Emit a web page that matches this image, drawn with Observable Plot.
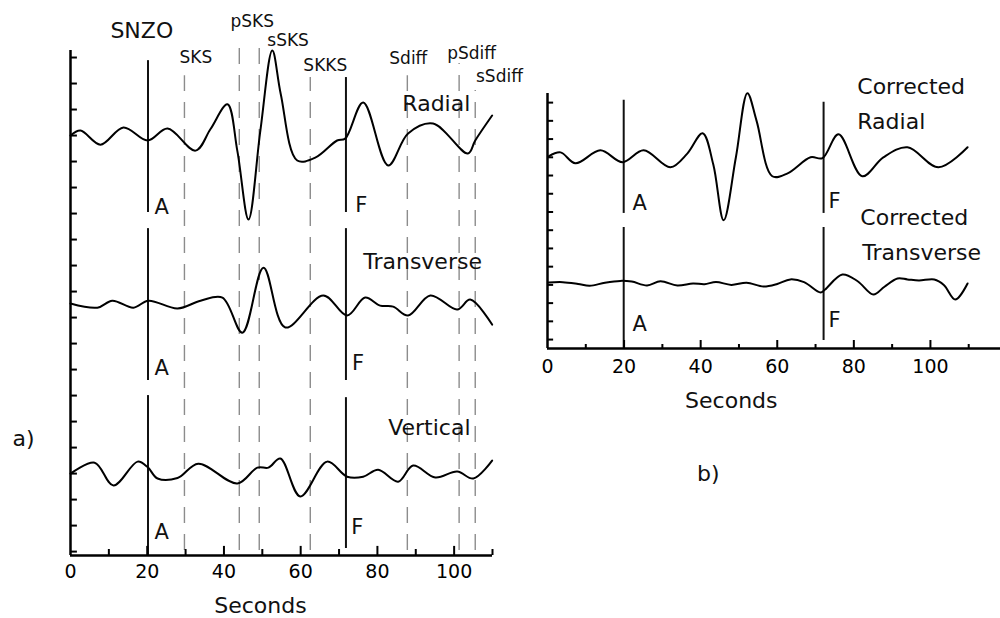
<!DOCTYPE html>
<html><head><meta charset="utf-8">
<script src="https://cdn.jsdelivr.net/npm/d3@7"></script>
<script src="https://cdn.jsdelivr.net/npm/@observablehq/plot@0.6"></script>
<style>
body{margin:0;background:#fff;}
#wrap{position:relative;width:1000px;height:618px;overflow:hidden;background:#fff;}
#wrap svg{position:absolute;top:0;}
</style></head><body><div id="wrap"></div>
<script>
// ---------- data (time in seconds, amplitude in trace units) ----------
const radial = [[0,16.0],[2.6,16.19],[7.8,15.65],[13.8,16.31],[20.1,15.81],[25.3,16.27],[32.6,15.42],[36.5,16.25],[40.9,17.2],[43.5,15.4],[46.4,12.77],[49.5,16.2],[52.6,19.27],[54.8,17.6],[59.1,15.04],[63.8,15.15],[69.5,15.81],[71.6,15.88],[76.3,17.27],[82.8,14.85],[88.0,16.08],[94.5,16.46],[103.6,15.31],[105.5,15.81],[109.9,16.77]];
const transverse = [[0,9.54],[7.0,9.38],[10.9,9.65],[16.4,9.38],[20.3,9.65],[27.9,9.35],[33.9,9.65],[39.6,9.77],[44.8,8.42],[50.3,10.92],[56.0,8.62],[65.9,9.85],[72.1,9.08],[76.8,9.77],[80.7,9.46],[84.1,9.42],[88.0,9.08],[93.8,9.85],[100.8,9.31],[104.2,9.69],[109.9,8.73]];
const vertical = [[0,3.0],[6.3,3.42],[11.2,2.54],[17.5,3.46],[20.1,3.25],[22.7,2.81],[27.9,2.83],[33.3,3.38],[43.5,2.62],[48.7,3.23],[51.6,3.23],[54.7,3.58],[59.9,2.12],[66.9,3.46],[72.1,2.88],[76.3,2.88],[80.2,3.15],[85.4,2.69],[89.3,3.31],[95.1,2.85],[100.8,3.08],[105.0,2.81],[109.9,3.5]];
const corrRadial = [[0.3,10.05],[3.4,10.27],[7.3,9.67],[13.8,10.38],[19.6,9.73],[25.1,10.38],[32.1,9.45],[36.5,10.2],[40.5,11.32],[43.3,9.6],[46.0,6.54],[49.2,10.0],[52.2,13.52],[54.6,12.0],[58.7,8.96],[62.7,9.12],[68.7,10.0],[71.8,9.95],[76.0,11.26],[82.2,8.96],[87.7,10.0],[94.0,10.55],[102.1,9.45],[109.7,10.55]];
const corrTransverse = [[0.3,3.13],[4,3.15],[8,3.05],[11,2.95],[15,3.12],[19,3.22],[22,3.18],[26,2.97],[29.5,3.2],[33.9,2.97],[38,3.08],[41,3.04],[44,3.16],[48,3.0],[52,3.12],[56.4,2.91],[60,3.05],[63.4,3.3],[67,3.15],[71.3,2.58],[72.5,2.75],[77,3.57],[81,3.2],[85.1,2.47],[88,2.9],[91.4,3.35],[94,3.3],[97,3.24],[101,3.3],[103.5,3.0],[106.5,2.2],[109.7,3.08]];
const phaseNames = ["SKS","pSKS","sSKS","SKKS","Sdiff","pSdiff","sSdiff"];
const phaseTimes = [29.7,44.0,49.2,62.5,87.8,101.3,105.5];
const markerNames = ["A","F"];
const markerTimesA = [20.2,71.8];
const markerTimesB = [19.9,72.1];
const xTickLabels = [0,20,40,60,80,100];

// ---------- layout ----------
const FONT = "'DejaVu Sans', Verdana, sans-serif";
const phaseTop = [18.3,19.65,19.46,18.23,18.3,18.77,17.73];
const wrap = document.getElementById("wrap");
const note = (t, x, y, size, anchor="start") =>
  Plot.text([t], {x, y, text: d => d, fontSize: size, textAnchor: anchor, fill: "#111"});
const trace = (data) => Plot.line(data, {x: d => d[0], y: d => d[1], curve: "catmull-rom", stroke: "#000", strokeWidth: 2});
const seg = (x, y1, y2) => Plot.ruleX([x], {y1, y2, stroke: "#111", strokeWidth: 2});

// ---------- panel a ----------
const pa = Plot.plot({
  width: 520, height: 618,
  marginLeft: 70, marginRight: 28, marginTop: 50, marginBottom: 63,
  x: {domain: [0, 110]},
  y: {domain: [-0.15, 19.27], axis: null},
  style: {fontFamily: FONT, background: "none", overflow: "visible"},
  marks: [
    Plot.ruleX(phaseTimes, {x: d => d, y1: 0.04, y2: (d, i) => phaseTop[i], stroke: "#8c8c8c", strokeWidth: 1.4, strokeDasharray: "16,11"}),
    // A/F markers per trace
    seg(markerTimesA[0], 18.88, 13.04), seg(markerTimesA[1], 18.23, 13.04),
    seg(markerTimesA[0], 12.42, 6.58), seg(markerTimesA[1], 12.42, 6.58),
    seg(markerTimesA[0], 6.0, -0.15), seg(markerTimesA[1], 5.92, 0.12),
    trace(radial), trace(transverse), trace(vertical),
    // axes
    Plot.ruleX([0], {y1: -0.15, y2: 19.27, stroke: "#000", strokeWidth: 2.5}),
    Plot.ruleY([-0.15], {x1: 0, x2: 110, stroke: "#000", strokeWidth: 2.5}),
    Plot.ruleY(d3.range(0, 20), {x1: 0, x2: 1.8, stroke: "#000", strokeWidth: 2}),
    Plot.ruleX(d3.range(10, 111, 10), {y1: -0.15, y2: d => d % 20 === 0 ? 0.2 : 0.08, stroke: "#000", strokeWidth: 2}),
    Plot.axisX({ticks: xTickLabels, tickSize: 0, tickPadding: 9, fontSize: 19, label: null, tickFormat: d => String(d)}),
    // labels
    note("Seconds", 49.5, -2.08, 22, "middle"),
    note("SNZO", 10.4, 20.04, 22),
    note(phaseNames[0], 28.4, 19.0, 17),
    note(phaseNames[1], 41.7, 20.4, 17),
    note(phaseNames[2], 51.3, 19.65, 17),
    note(phaseNames[3], 60.7, 18.7, 17),
    note(phaseNames[4], 83.1, 18.96, 17),
    note(phaseNames[5], 98.2, 19.15, 17),
    note(phaseNames[6], 105.7, 18.27, 17),
    note("Radial", 86.5, 17.23, 22),
    note("Transverse", 76.3, 11.12, 22),
    note("Vertical", 82.8, 4.77, 22),
    note(markerNames[0], 21.9, 13.23, 21), note(markerNames[1], 74.2, 13.3, 21),
    note(markerNames[0], 21.9, 7.04, 21), note(markerNames[1], 73.4, 7.23, 21),
    note(markerNames[0], 21.9, 0.73, 21), note(markerNames[1], 73.2, 0.92, 21),
    note("a)", -15.1, 4.35, 22)
  ]
});
pa.style.left = "0px";

// ---------- panel b ----------
const pb = Plot.plot({
  width: 480, height: 618,
  marginLeft: 27, marginRight: 0, marginTop: 93, marginBottom: 270,
  x: {domain: [0, 118.3]},
  y: {domain: [-0.49, 13.5], axis: null},
  style: {fontFamily: FONT, background: "none", overflow: "visible"},
  marks: [
    seg(markerTimesB[0], 13.13, 6.92), seg(markerTimesB[1], 13.02, 6.92),
    seg(markerTimesB[0], 6.15, -0.49), seg(markerTimesB[1], 6.15, -0.05),
    trace(corrRadial), trace(corrTransverse),
    Plot.ruleX([0], {y1: -0.49, y2: 13.5, stroke: "#000", strokeWidth: 2.5}),
    Plot.ruleY([-0.49], {x1: 0, x2: 118.3, stroke: "#000", strokeWidth: 2.5}),
    Plot.ruleY(d3.range(0, 14), {x1: 0, x2: 1.6, stroke: "#000", strokeWidth: 2}),
    Plot.ruleX(d3.range(10, 111, 10), {y1: -0.49, y2: d => d % 20 === 0 ? -0.05 : -0.27, stroke: "#000", strokeWidth: 2}),
    Plot.axisX({ticks: xTickLabels, tickSize: 0, tickPadding: 11, fontSize: 19, label: null, tickFormat: d => String(d)}),
    note("Seconds", 48.0, -3.35, 22, "middle"),
    note("Corrected", 80.9, 13.85, 22),
    note("Radial", 80.9, 11.92, 22),
    note("Corrected", 81.7, 6.65, 22),
    note("Transverse", 82.2, 4.73, 22),
    note(markerNames[0], 22.2, 7.5, 21), note(markerNames[1], 73.4, 7.6, 21),
    note(markerNames[0], 22.2, 0.82, 21), note(markerNames[1], 73.4, 1.04, 21),
    note("b)", 42.0, -7.36, 22, "middle")
  ]
});
pb.style.left = "520px";

wrap.appendChild(pb);
wrap.appendChild(pa);
</script></body></html>
